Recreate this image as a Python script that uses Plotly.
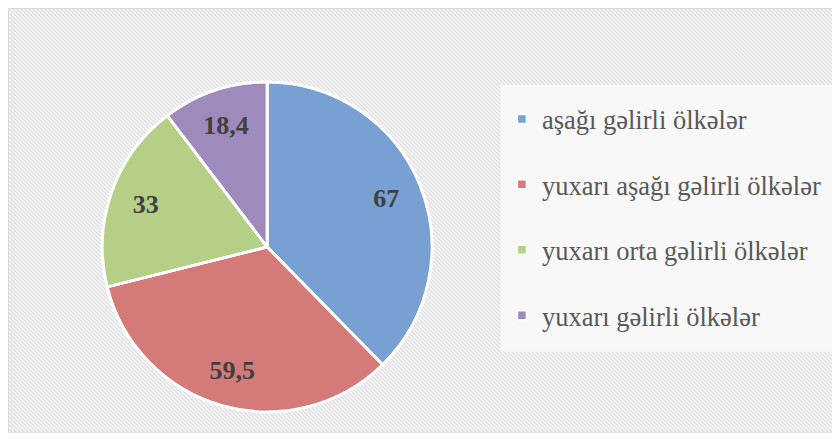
import base64
import plotly.graph_objects as go

labels = [
    "aşağı gəlirli ölkələr",
    "yuxarı aşağı gəlirli ölkələr",
    "yuxarı orta gəlirli ölkələr",
    "yuxarı gəlirli ölkələr",
]
values = [67, 59.5, 33, 18.4]
colors = ["#78a0d2", "#d47b79", "#b6cf87", "#9f8abc"]

SERIF = "Liberation Serif"

# hatched chart-area background (Excel style), drawn as an svg image
svg = (
    '<svg xmlns="http://www.w3.org/2000/svg" width="827" height="425">'
    '<defs><pattern id="h" width="4" height="4" patternUnits="userSpaceOnUse">'
    '<rect width="4" height="4" fill="#f5f5f5"/>'
    '<path d="M-1,-1 L5,5 M-1,3 L1,5 M3,-1 L5,1" stroke="#dedede" stroke-width="1.2"/>'
    "</pattern></defs>"
    '<rect x="0.5" y="0.5" width="826" height="424" fill="url(#h)" stroke="#d9d9d9"/>'
    "</svg>"
)
bg_src = "data:image/svg+xml;base64," + base64.b64encode(svg.encode()).decode()

pie_domain = dict(x=[0.112, 0.505], y=[0.078, 0.831])

fig = go.Figure()

# filled pie, no text
fig.add_trace(
    go.Pie(
        labels=labels,
        values=values,
        sort=False,
        direction="clockwise",
        rotation=0,
        marker=dict(colors=colors, line=dict(color="white", width=3)),
        textinfo="none",
        domain=pie_domain,
        showlegend=False,
        hoverinfo="label+value",
    )
)

# transparent ring on top, only to place the value labels further out
fig.add_trace(
    go.Pie(
        labels=labels,
        values=values,
        sort=False,
        direction="clockwise",
        rotation=0,
        hole=0.56,
        marker=dict(colors=["rgba(0,0,0,0)"] * len(values), line=dict(width=0)),
        texttemplate="%{value}",
        textposition="inside",
        insidetextorientation="horizontal",
        textfont=dict(family=SERIF, size=26, color="#404040", weight="bold"),
        domain=pie_domain,
        showlegend=False,
        hoverinfo="skip",
    )
)

# legend entries (separate groups so the spacing can be opened up)
for i, (lab, col) in enumerate(zip(labels, colors)):
    fig.add_trace(
        go.Scatter(
            x=[None],
            y=[None],
            mode="markers",
            name=lab,
            legendgroup=f"g{i}",
            marker=dict(symbol="square", size=9, color=col, line=dict(color="white", width=1.5)),
        )
    )

fig.update_layout(
    template="none",
    width=840,
    height=438,
    margin=dict(l=0, r=0, t=0, b=0),
    paper_bgcolor="white",
    plot_bgcolor="rgba(0,0,0,0)",
    font=dict(family=SERIF),
    separators=", ",
    xaxis=dict(visible=False),
    yaxis=dict(visible=False),
    images=[
        dict(
            source=bg_src,
            xref="paper",
            yref="paper",
            x=0,
            y=1,
            sizex=0.9845,
            sizey=0.970,
            sizing="stretch",
            layer="below",
        )
    ],
    shapes=[
        dict(
            type="rect",
            xref="paper",
            yref="paper",
            x0=0.586,
            x1=0.982,
            y0=0.215,
            y1=0.824,
            fillcolor="#f8f8f8",
            line=dict(width=0),
            layer="below",
        )
    ],
    legend=dict(
        x=0.588,
        y=0.801,
        xanchor="left",
        yanchor="top",
        bgcolor="rgba(0,0,0,0)",
        font=dict(family=SERIF, size=26.5, color="#595959"),
        tracegroupgap=28,
        itemwidth=30,
    ),
    showlegend=True,
)

fig.write_html("out.html")
